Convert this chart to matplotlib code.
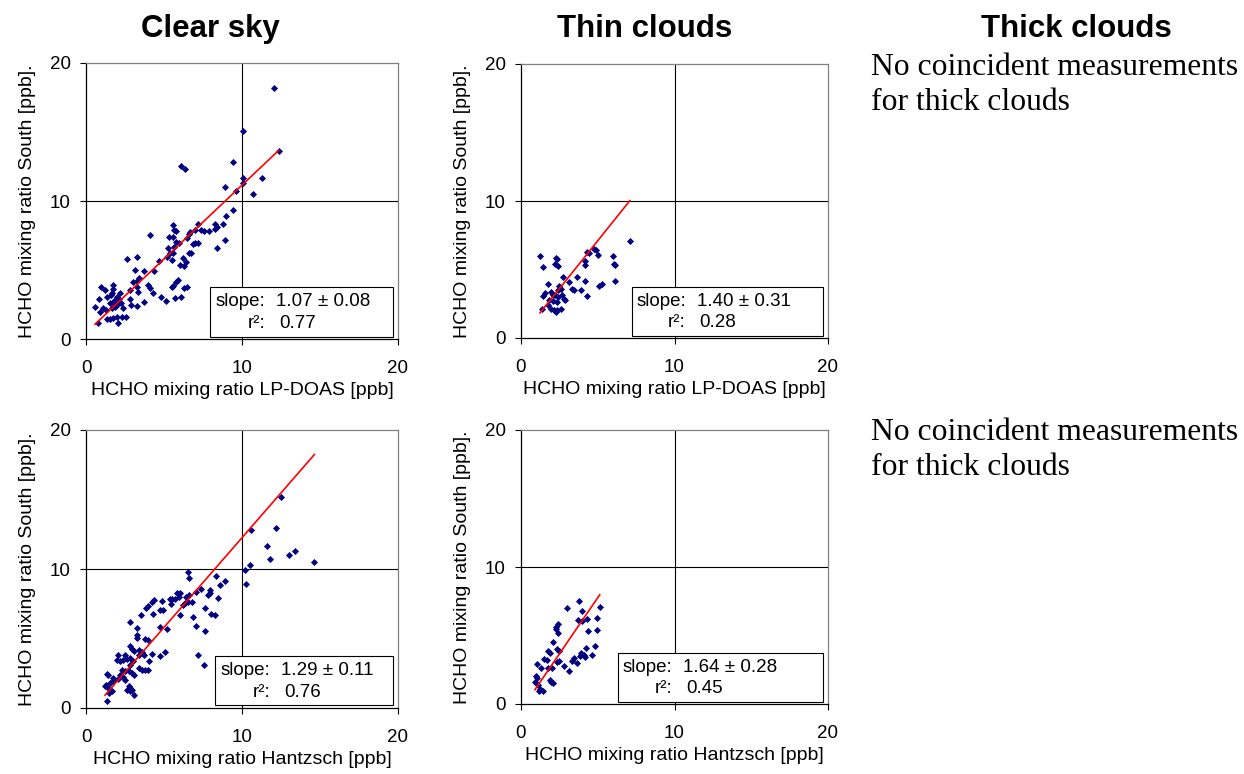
import numpy as np
import matplotlib.pyplot as plt
from matplotlib.patches import Rectangle

# clear sky, South vs LP-DOAS
clear_doas_x = [12.05, 10.04, 12.35, 6.09, 6.37, 9.4, 10.04, 10.04, 11.26, 8.93,
                9.6, 10.7, 9.4, 9.0, 8.8, 8.3, 8.3, 8.4, 8.9, 8.4,
                7.9, 7.56, 7.4, 7.2, 6.99, 6.67, 6.6, 5.56, 5.64, 5.75,
                5.34, 5.56, 4.12, 5.8, 5.98, 6.5, 6.88, 6.99, 7.2, 5.28,
                5.66, 5.56, 5.38, 6.6, 6.7, 6.24, 6.41, 6.0, 6.3, 5.2,
                5.5, 4.7, 2.6, 3.3, 3.14, 3.72, 4.36, 3.42, 3.3, 3.03,
                4.0, 4.1, 3.3, 3.35, 2.82, 5.9, 5.8, 5.6, 5.5, 6.45,
                6.28, 4.27, 4.8, 5.13, 3.72, 3.3, 2.82, 2.86, 5.73, 6.07,
                0.94, 1.22, 1.71, 1.75, 1.67, 1.58, 1.37, 2.18, 1.97, 2.14,
                1.86, 2.22, 1.75, 1.54, 0.85, 0.58, 1.11, 0.9, 1.28, 1.65,
                1.86, 2.0, 2.39, 2.56, 2.29, 1.97, 1.71, 1.54, 1.32, 2.07, 0.79]
clear_doas_y = [18.2, 15.1, 13.6, 12.5, 12.3, 12.8, 11.7, 11.3, 11.7, 11.0,
                10.7, 10.5, 9.35, 8.9, 8.3, 8.3, 8.0, 8.1, 7.2, 6.6,
                7.8, 7.8, 7.9, 8.3, 7.9, 7.75, 7.6, 8.26, 7.9, 7.85,
                7.4, 7.4, 7.5, 7.05, 6.98, 7.3, 6.86, 6.93, 6.98, 6.6,
                6.64, 6.2, 6.2, 6.2, 6.26, 5.85, 5.6, 5.36, 5.3, 5.97,
                5.7, 5.65, 5.8, 5.97, 5.0, 4.95, 4.95, 4.4, 4.2, 4.1,
                3.9, 3.7, 3.8, 3.43, 3.55, 4.27, 4.1, 3.86, 3.8, 3.8,
                3.67, 3.36, 3.07, 2.78, 2.66, 2.4, 2.87, 2.46, 2.95, 3.07,
                3.74, 3.55, 3.91, 3.6, 3.31, 3.19, 3.07, 3.36, 3.02, 2.87,
                2.83, 2.63, 2.71, 2.58, 2.87, 2.34, 2.22, 1.98, 2.1, 2.22,
                2.34, 2.46, 2.22, 1.62, 1.62, 1.62, 1.5, 1.43, 1.43, 1.14, 1.14]

# thin clouds, South vs LP-DOAS
thin_doas_x = [7.09, 1.24, 1.45, 2.26, 2.37, 2.21, 2.43, 4.27, 4.45, 4.75,
               4.88, 5.03, 4.2, 4.19, 5.97, 6.05, 6.14, 6.14, 5.1, 5.27,
               4.14, 3.62, 3.15, 2.71, 3.3, 3.45, 3.88, 2.5, 2.58, 2.39,
               1.78, 1.56, 1.45, 1.93, 2.06, 2.21, 2.65, 2.39, 4.27, 1.84,
               1.78, 2.1, 2.32, 2.8, 2.86, 1.34, 1.95, 2.15, 2.32, 2.26, 2.58]
thin_doas_y = [7.06, 6.0, 5.18, 5.86, 5.77, 5.43, 5.23, 6.25, 6.2, 6.5,
               6.4, 6.08, 5.6, 5.35, 6.0, 5.43, 5.3, 4.16, 3.77, 3.97,
               4.18, 4.45, 4.06, 4.45, 3.58, 3.48, 3.53, 3.77, 3.58, 3.53,
               3.97, 3.28, 3.09, 3.33, 3.14, 3.16, 3.16, 2.99, 3.04, 2.8,
               2.43, 2.68, 2.6, 2.85, 2.75, 2.12, 2.12, 2.07, 2.02, 1.87, 2.12]

# clear sky, South vs Hantzsch
clear_hantz_x = [12.49, 10.6, 12.21, 11.63, 11.8, 13.03, 13.41, 14.64, 10.17, 10.49,
                 10.28, 6.52, 6.63, 8.33, 8.88, 8.58, 7.92, 7.98, 7.81, 8.48,
                 7.38, 7.08, 6.8, 6.44, 6.59, 6.52, 6.37, 6.22, 5.84, 6.0,
                 5.94, 5.73, 5.52, 5.36, 4.87, 4.38, 4.23, 3.99, 3.86, 3.52,
                 5.45, 6.05, 7.66, 8.03, 8.24, 6.85, 4.72, 4.91, 4.29, 7.08,
                 7.6, 4.76, 5.19, 2.83, 3.3, 3.3, 3.26, 3.8, 3.95, 2.83,
                 2.94, 3.05, 3.37, 3.58, 3.69, 3.37, 4.23, 4.01, 4.76, 5.09,
                 7.17, 7.55, 2.08, 2.51, 2.0, 2.19, 2.4, 2.62, 2.79, 3.0,
                 2.83, 3.37, 3.58, 3.8, 3.97, 2.3, 2.51, 2.73, 2.94, 3.05,
                 2.19, 2.36, 2.51, 2.73, 2.83, 2.94, 3.09, 2.83, 2.62, 1.33,
                 1.44, 1.29, 1.55, 1.76, 1.72, 2.02, 1.44, 1.65, 1.5, 1.33, 1.22]
clear_hantz_y = [15.2, 12.79, 12.98, 11.69, 10.7, 11.02, 11.3, 10.49, 9.94, 10.3,
                 8.91, 9.77, 9.34, 9.53, 9.15, 8.86, 8.5, 8.26, 8.14, 7.9,
                 8.55, 8.38, 7.66, 8.02, 8.1, 7.66, 7.54, 7.43, 8.26, 8.26,
                 7.95, 7.86, 7.86, 7.86, 7.71, 7.78, 7.66, 7.31, 7.19, 6.71,
                 7.47, 6.66, 7.19, 6.75, 6.66, 6.54, 7.07, 7.07, 6.78, 5.92,
                 5.56, 5.82, 5.68, 6.18, 5.75, 5.27, 5.03, 4.96, 4.91, 4.43,
                 4.26, 4.07, 4.19, 4.0, 3.83, 3.83, 3.88, 3.4, 3.71, 4.0,
                 3.83, 3.07, 3.78, 3.78, 3.47, 3.35, 3.47, 3.52, 3.59, 3.35,
                 3.11, 2.87, 2.75, 2.75, 2.7, 2.75, 2.63, 2.68, 2.51, 2.4,
                 2.4, 2.2, 2.04, 1.56, 1.44, 1.32, 0.91, 1.2, 1.32, 2.44,
                 2.35, 1.68, 1.8, 1.96, 2.16, 2.11, 1.44, 1.2, 1.08, 0.48, 1.56]

# thin clouds, South vs Hantzsch
thin_hantz_x = [3.77, 3.01, 5.13, 4.0, 4.33, 3.72, 4.0, 4.96, 4.96, 4.37,
                2.38, 2.27, 2.25, 2.42, 2.1, 1.77, 1.88, 2.36, 2.47, 4.22,
                4.09, 3.94, 3.87, 4.16, 4.81, 4.65, 3.44, 3.35, 3.68, 3.14,
                2.79, 1.49, 1.71, 1.02, 1.3, 1.73, 1.99, 2.32, 2.49, 0.97,
                1.06, 0.91, 1.08, 1.88, 1.95, 2.1, 1.23, 1.41, 1.19]
thin_hantz_y = [7.55, 7.03, 7.11, 6.81, 6.18, 6.13, 6.05, 6.25, 5.39, 5.34,
                5.83, 5.64, 5.47, 5.15, 4.49, 3.87, 3.73, 4.0, 3.85, 4.12,
                3.55, 3.73, 3.5, 3.43, 4.24, 3.55, 3.38, 3.11, 2.99, 2.4,
                2.75, 3.31, 3.19, 2.94, 2.62, 2.62, 2.62, 3.06, 3.11, 2.08,
                1.89, 1.64, 1.4, 1.72, 1.59, 1.54, 1.1, 0.93, 0.98]

slopes = ["1.07 ± 0.08", "1.40 ± 0.31", "1.29 ± 0.11", "1.64 ± 0.28"]
r2 = ["0.77", "0.28", "0.76", "0.45"]
fit_slope = [1.07, 1.40, 1.29, 1.64]
fit_icpt = [0.45, 0.1, -0.65, -0.44]

col_titles = ["Clear sky", "Thin clouds", "Thick clouds"]
xlabels = ["HCHO mixing ratio LP-DOAS [ppb]", "HCHO mixing ratio Hantzsch [ppb]"]
ylabel = "HCHO mixing ratio South [ppb]."
no_data = ["No coincident measurements", "for thick clouds"]

W, H = 1244, 774
fig = plt.figure(figsize=(W / 100, H / 100), dpi=100)
plt.rcParams['font.family'] = ['Liberation Sans', 'DejaVu Sans']

# axes boxes in pixels: left, top, right, bottom
boxes = [(86, 63, 398, 339), (521, 64, 828, 338), (86, 430, 398, 708), (521, 430, 828, 704)]
# left edge of stats box in axes fraction
box_left = [0.397, 0.36, 0.413, 0.315]
datasets = [(clear_doas_x, clear_doas_y), (thin_doas_x, thin_doas_y),
            (clear_hantz_x, clear_hantz_y), (thin_hantz_x, thin_hantz_y)]

for i, (l, t, r, b) in enumerate(boxes):
    ax = fig.add_axes([l / W, 1 - b / H, (r - l) / W, (b - t) / H])
    xs, ys = datasets[i]
    ax.set_xlim(0, 20)
    ax.set_ylim(0, 20)
    ax.set_xticks([0, 10, 20])
    ax.set_yticks([0, 10, 20])
    ax.axhline(10, color="black", lw=0.8, zorder=1)
    ax.axvline(10, color="black", lw=0.8, zorder=1)
    for s in ["top", "right"]:
        ax.spines[s].set_color("#808080")
    for s in ["left", "bottom"]:
        ax.spines[s].set_color("black")
    for s in ax.spines.values():
        s.set_linewidth(0.9)
    ax.tick_params(direction="out", length=4, width=0.8, labelsize=13.5)
    ax.tick_params(axis="x", pad=11)
    ax.tick_params(axis="y", pad=7)
    ax.scatter(xs, ys, marker="D", s=13, color="#000080", linewidths=0, zorder=3)
    xx = np.array([min(xs), max(xs)])
    ax.plot(xx, fit_slope[i] * xx + fit_icpt[i], color="red", lw=1.2, zorder=4)
    ax.set_xlabel(xlabels[i // 2], fontsize=14, labelpad=4)
    ax.set_ylabel(ylabel, fontsize=14, labelpad=10)

    bl = box_left[i]
    ax.add_patch(Rectangle((bl, 0.009), 0.985 - bl, 0.178, transform=ax.transAxes,
                           facecolor="white", edgecolor="black", lw=0.8, zorder=5))
    ax.text(bl + 0.177, 0.135, "slope:", transform=ax.transAxes, ha="right",
            va="center", fontsize=13.5, zorder=6)
    ax.text(bl + 0.212, 0.135, slopes[i], transform=ax.transAxes, ha="left",
            va="center", fontsize=13.5, zorder=6)
    ax.text(bl + 0.177, 0.055, "r²:", transform=ax.transAxes, ha="right",
            va="center", fontsize=13.5, zorder=6)
    ax.text(bl + 0.222, 0.055, r2[i], transform=ax.transAxes, ha="left",
            va="center", fontsize=13.5, zorder=6)

for x, title in zip([210, 645, 1076], col_titles):
    fig.text(x / W, 1 - 37 / H, title, ha="center", va="baseline",
             fontsize=22.5, fontweight="bold")

for y0 in [75, 440]:
    for k, line in enumerate(no_data):
        fig.text(871 / W, 1 - (y0 + 35 * k) / H, line, ha="left", va="baseline",
                 fontsize=22.8, family=["Liberation Serif", "DejaVu Serif"])

fig.savefig("out.png", dpi=100)
